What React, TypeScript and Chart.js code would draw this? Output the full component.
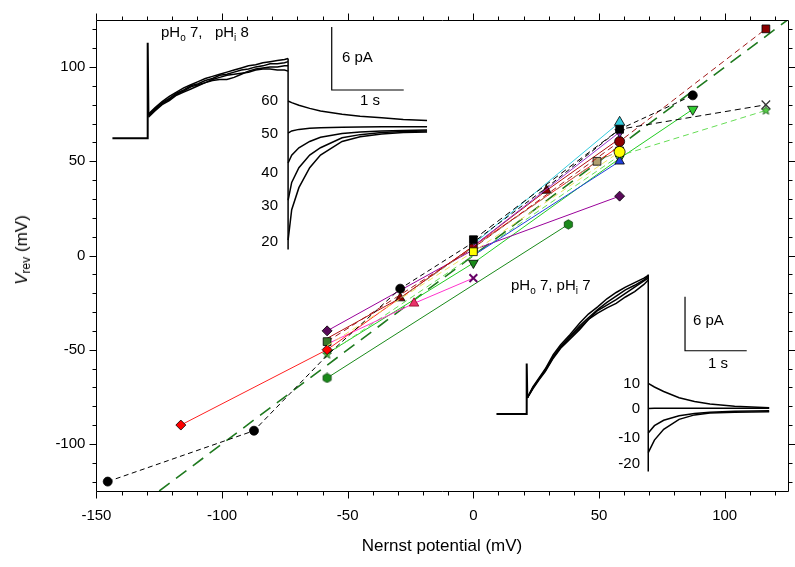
import React, { useEffect, useRef } from "react";
import { Chart, registerables } from "chart.js";
Chart.register(...registerables);

const FONT = "'Liberation Sans', Arial, sans-serif";

// ---------- main chart: tick labels ----------
const xTickLabels = [-150, -100, -50, 0, 50, 100];
const yTickLabels = [-100, -50, 0, 50, 100];
const xMin = -150, xMax = 125, yMin = -125, yMax = 125;

// ---------- main chart: series (Nernst potential, Vrev) in mV ----------
const nernstLineX = [-125, 125];
const nernstLineY = [-125, 125];

const blackCircX = [-145.5, -87.3, -58.2, -29.1, 0, 29.1, 58.2, 87.3];
const blackCircY = [-120, -93, -53, -17.6, 7, 36, 67, 85];

const blackSqX = [0, 58.2, 116.4];
const blackSqY = [8.4, 67, 80];

const darkRedSqX = [-58.2, 0, 58.2, 116.4];
const darkRedSqY = [-45.7, 4, 60.5, 120.3];

const redDiaX = [-116.4, -58.2, 0, 58.2];
const redDiaY = [-90, -50, 5, 58];

const greenHexX = [-58.2, 37.8];
const greenHexY = [-65, 16.5];

const purpleDiaX = [-58.2, 0, 58.2];
const purpleDiaY = [-40, 3, 31.5];

const magentaX = [-58.2, -23.6, 0];
const magentaY = [-47, -25.4, -12];

const lightGreenX = [-58.2, 0, 58.2, 116.4];
const lightGreenY = [-52.5, 0, 53, 77];

const greenTriX = [-58.2, 0, 58.2, 87.3];
const greenTriY = [-52, -4, 51.5, 77.6];

const cyanX = [0, 58.2];
const cyanY = [6, 70.7];

const violetX = [0, 58.2];
const violetY = [5, 65.5];

const yellowX = [-58.2, 0, 58.2];
const yellowY = [-48, 2, 55];

const blueX = [0, 58.2];
const blueY = [0, 50];

const tanX = [-29.1, 49.2, 58.2];
const tanY = [-22.6, 50, 55.5];

const darkRedTriX = [-58.2, -29.1, 0, 29.1, 58.2];
const darkRedTriY = [-44, -22.6, 5, 34.5, 62];

// ---------- inset 1 (pHo 7, pHi 8): time (s), current (pA) ----------
const in1PulseT = [-0.49, 0, 0, 0.01];
const in1PulseI = [0, 0, 9.1, 2.2];
const in1RiseT = [0.01, 0.1, 0.2, 0.3, 0.4, 0.5, 0.6, 0.7, 0.8, 0.9, 1.0, 1.1, 1.2, 1.3, 1.4, 1.5, 1.6, 1.7, 1.8, 1.9, 1.95];
const in1RiseA = [2.2, 2.8, 3.4, 3.8, 4.3, 4.6, 5.0, 5.2, 5.5, 5.7, 6.0, 6.1, 6.3, 6.5, 6.6, 6.8, 6.9, 7.1, 7.1, 7.2, 7.3];
const in1RiseB = [2.0, 2.6, 3.2, 3.6, 4.1, 4.4, 4.7, 5.0, 5.3, 5.5, 5.6, 5.6, 5.8, 6.1, 6.4, 6.6, 6.7, 6.8, 6.8, 6.9, 6.9];
const in1RiseC = [2.3, 2.9, 3.5, 4.0, 4.4, 4.8, 5.1, 5.4, 5.7, 5.9, 6.1, 6.3, 6.5, 6.7, 6.9, 7.0, 7.2, 7.3, 7.4, 7.5, 7.6];
const in1RiseD = [2.1, 2.7, 3.3, 3.7, 4.2, 4.5, 4.9, 5.1, 5.3, 5.6, 5.8, 6.0, 6.1, 6.2, 6.3, 6.5, 6.6, 6.6, 6.5, 6.5, 6.4];
const in1StepT = [1.95, 1.95];
const in1StepI = [7.6, -10.6];
const in1TailT = [1.95, 2.0, 2.1, 2.25, 2.4, 2.7, 2.95, 3.25, 3.55, 3.88];
const in1Tail60 = [3.55, 3.4, 3.15, 2.85, 2.6, 2.3, 2.1, 1.95, 1.8, 1.7];
const in1Tail50 = [0.5, 0.7, 0.85, 0.95, 1.0, 1.05, 1.08, 1.1, 1.1, 1.1];
const in1Tail40 = [-2.35, -1.6, -0.9, -0.3, 0.1, 0.45, 0.6, 0.7, 0.75, 0.8];
const in1Tail30 = [-5.9, -4.2, -2.8, -1.6, -0.9, 0.05, 0.35, 0.55, 0.65, 0.7];
const in1Tail20 = [-9.7, -6.8, -4.7, -2.8, -1.6, -0.3, 0.15, 0.4, 0.55, 0.6];
const in1BarT = [2.556, 2.556, 3.556];
const in1BarI = [10.6, 4.6, 4.6];
const in1Labels = ["60", "50", "40", "30", "20"];

// ---------- inset 2 (pHo 7, pHi 7) ----------
const in2PulseT = [-0.49, 0, 0, 0.01];
const in2PulseI = [0, 0, 5.6, 1.8];
const in2RiseT = [0.01, 0.1, 0.2, 0.3, 0.43, 0.55, 0.7, 0.86, 1.0, 1.15, 1.3, 1.45, 1.6, 1.75, 1.9, 1.97];
const in2RiseA = [1.8, 2.9, 3.9, 4.9, 6.4, 7.5, 8.6, 9.8, 10.7, 11.6, 12.4, 13.1, 13.8, 14.3, 14.9, 15.3];
const in2RiseB = [1.8, 2.8, 3.8, 4.7, 6.2, 7.3, 8.3, 9.4, 10.5, 11.5, 12.1, 12.7, 13.4, 14.1, 14.8, 15.1];
const in2RiseC = [1.8, 3.0, 4.0, 5.0, 6.6, 7.7, 8.8, 10.1, 11.1, 11.9, 12.8, 13.5, 14.1, 14.6, 15.1, 15.4];
const in2RiseD = [1.8, 2.9, 3.9, 4.8, 6.3, 7.4, 8.5, 9.6, 10.5, 11.2, 11.8, 12.3, 13.0, 13.6, 14.4, 14.9];
const in2StepT = [1.97, 1.97];
const in2StepI = [15.5, -6.4];
const in2TailT = [1.97, 2.07, 2.22, 2.47, 2.72, 2.97, 3.37, 3.93];
const in2Tail10 = [3.4, 3.0, 2.5, 1.8, 1.4, 1.1, 0.85, 0.7];
const in2Tail0 = [0.6, 0.65, 0.65, 0.65, 0.65, 0.65, 0.65, 0.65];
const in2TailM10 = [-2.1, -1.3, -0.7, -0.2, 0.05, 0.2, 0.3, 0.35];
const in2TailM20 = [-4.3, -2.9, -1.7, -0.6, -0.1, 0.1, 0.2, 0.25];
const in2BarT = [2.566, 2.566, 3.566];
const in2BarI = [13.03, 7.03, 7.03];
const in2Labels = ["10", "0", "-10", "-20"];

// ---------- helpers ----------
const pts = (xs: number[], ys: number[]) => xs.map((x, i) => ({ x, y: ys[i] }));

function makeMarker(shape: "hex" | "star", fill: string, stroke: string, size: number) {
  const c = document.createElement("canvas");
  c.width = size;
  c.height = size;
  const g = c.getContext("2d")!;
  const cx = size / 2, cy = size / 2, r = size / 2 - 0.8;
  g.beginPath();
  if (shape === "hex") {
    for (let k = 0; k < 6; k++) {
      const a = Math.PI / 6 + (k * Math.PI) / 3;
      const px = cx + r * Math.cos(a), py = cy + r * Math.sin(a);
      k === 0 ? g.moveTo(px, py) : g.lineTo(px, py);
    }
  } else {
    for (let k = 0; k < 10; k++) {
      const rr = k % 2 ? r * 0.45 : r;
      const a = -Math.PI / 2 + (k * Math.PI) / 5;
      const px = cx + rr * Math.cos(a), py = cy + rr * Math.sin(a);
      k === 0 ? g.moveTo(px, py) : g.lineTo(px, py);
    }
  }
  g.closePath();
  g.fillStyle = fill;
  g.fill();
  g.strokeStyle = stroke;
  g.lineWidth = 0.8;
  g.stroke();
  return c;
}

const framePlugin = {
  id: "frameTicks",
  afterDatasetsDraw(chart: any) {
    const { ctx, chartArea: a } = chart;
    const xs = chart.scales.x, ys = chart.scales.y;
    const L = Math.round(a.left) + 0.5, R = Math.round(a.right) + 0.5;
    const T = Math.round(a.top) + 0.5, B = Math.round(a.bottom) + 0.5;
    ctx.save();
    ctx.strokeStyle = "#000";
    ctx.lineWidth = 1;
    ctx.beginPath();
    ctx.rect(L, T, R - L, B - T);
    for (let v = Math.ceil(xs.min / 10) * 10; v <= xs.max + 1e-6; v += 10) {
      const p = Math.round(xs.getPixelForValue(v)) + 0.5;
      const len = v % 50 === 0 ? 7 : 4;
      ctx.moveTo(p, B); ctx.lineTo(p, B + len);
      ctx.moveTo(p, T); ctx.lineTo(p, T - len);
    }
    for (let v = Math.ceil(ys.min / 10) * 10; v <= ys.max + 1e-6; v += 10) {
      const p = Math.round(ys.getPixelForValue(v)) + 0.5;
      const len = v % 50 === 0 ? 7 : 4;
      ctx.moveTo(L, p); ctx.lineTo(L - len, p);
      ctx.moveTo(R, p); ctx.lineTo(R + len, p);
    }
    ctx.stroke();
    ctx.restore();
  },
};

function mainConfig(): any {
  const hex = makeMarker("hex", "#1a8a1a", "#0a400a", 11);
  const star = makeMarker("star", "#55CC44", "#1a5a1a", 11);
  const line = (label: string, xs: number[], ys: number[], o: any) => ({
    label,
    data: pts(xs, ys),
    showLine: true,
    tension: 0,
    borderWidth: 1,
    pointBorderWidth: 0.8,
    pointBorderColor: "#000",
    ...o,
  });
  const datasets = [
    line("black circles", blackCircX, blackCircY, {
      borderColor: "#000", borderDash: [5, 3.5], pointStyle: "circle",
      pointRadius: [4.5, 4.5, 0, 4.5, 0, 0, 0, 4.5], pointBackgroundColor: "#000",
    }),
    line("black squares", blackSqX, blackSqY, {
      borderColor: "#000", borderDash: [6, 4], pointStyle: ["rect", "rect", "crossRot"],
      pointRadius: [5.5, 5.5, 6], pointBackgroundColor: "#000",
      pointBorderColor: ["#000", "#000", "#333"], pointBorderWidth: [0.8, 0.8, 1.2],
    }),
    line("cyan", cyanX, cyanY, {
      borderColor: "#33CCDD", pointStyle: "triangle", pointRadius: [0, 6], pointBackgroundColor: "#33CCDD",
    }),
    line("violet", violetX, violetY, {
      borderColor: "#9933CC", pointStyle: "triangle", pointRotation: 180, pointRadius: [0, 5.5], pointBackgroundColor: "#9933CC",
    }),
    line("yellow", yellowX, yellowY, {
      borderColor: "#EEE060", borderDash: [6, 4], pointStyle: ["circle", "rect", "circle"],
      pointRadius: [0, 5.5, 5.5], pointBackgroundColor: "#FFFF00",
    }),
    line("blue", blueX, blueY, {
      borderColor: "#2040DD", pointStyle: "triangle", pointRadius: [0, 5.5], pointBackgroundColor: "#2040DD",
    }),
    line("dark red squares", darkRedSqX, darkRedSqY, {
      borderColor: "#A01818", borderDash: [6, 4], pointStyle: ["rect", "rect", "circle", "rect"],
      pointRadius: [5.5, 5.5, 5, 5.5], pointBackgroundColor: ["#3a7a2a", "#8B0000", "#8B0000", "#8B0000"],
    }),
    line("tan", tanX, tanY, {
      borderColor: "#9a9070", borderDash: [6, 4], pointStyle: "rect",
      pointRadius: [0, 5.5, 5.5], pointBackgroundColor: "#B0A070",
    }),
    line("dark red triangles", darkRedTriX, darkRedTriY, {
      borderColor: "#B01010", pointStyle: "triangle", pointRadius: [0, 5.5, 0, 5.5, 0], pointBackgroundColor: "#8B0000",
    }),
    line("red diamonds", redDiaX, redDiaY, {
      borderColor: "#FF2020", pointStyle: "rectRot", pointRadius: [5, 5, 0, 0], pointBackgroundColor: "#FF0000",
    }),
    line("purple diamonds", purpleDiaX, purpleDiaY, {
      borderColor: "#990099", pointStyle: "rectRot", pointRadius: [5, 0, 5], pointBackgroundColor: "#5a0a5a",
    }),
    line("magenta", magentaX, magentaY, {
      borderColor: "#FF33CC", pointStyle: ["circle", "triangle", "crossRot"],
      pointRadius: [0, 5.5, 5.5], pointBackgroundColor: ["#000", "#E8336A", "#660066"],
      pointBorderColor: ["#000", "#8B0020", "#660066"], pointBorderWidth: [1, 0.8, 2],
    }),
    line("light green dashed", lightGreenX, lightGreenY, {
      borderColor: "#66DD55", borderDash: [6, 4], pointStyle: star, pointRadius: [5, 0, 0, 5],
    }),
    line("green triangles", greenTriX, greenTriY, {
      borderColor: "#22CC22", pointStyle: "triangle", pointRotation: 180,
      pointRadius: [0, 5.5, 5, 6], pointBackgroundColor: ["#33CC33", "#1a8a1a", "#33CC33", "#33CC33"],
    }),
    line("green hexagons", greenHexX, greenHexY, {
      borderColor: "#1a8a1a", pointStyle: hex, pointRadius: 5,
    }),
    line("Nernst", nernstLineX, nernstLineY, {
      borderColor: "#1f7a1f", borderWidth: 1.6, borderDash: [13, 8], pointRadius: 0,
    }),
  ];
  return {
    type: "scatter",
    data: { datasets },
    options: {
      animation: false,
      responsive: false,
      layout: { padding: { left: 0, top: 7.7, right: 7.5, bottom: 0 } },
      plugins: { legend: { display: false }, tooltip: { enabled: false } },
      scales: {
        x: {
          type: "linear", min: xMin, max: xMax,
          afterFit: (s: any) => { s.height = 76; },
          afterBuildTicks: (s: any) => { s.ticks = xTickLabels.map((v) => ({ value: v })); },
          grid: { display: false, drawTicks: false },
          border: { display: false },
          ticks: { color: "#000", font: { family: FONT, size: 15 }, padding: 16, maxRotation: 0 },
          title: {
            display: true, text: "Nernst potential (mV)", color: "#000",
            font: { family: FONT, size: 17 }, padding: { top: 0, bottom: 10.8 },
          },
        },
        y: {
          type: "linear", min: yMin, max: yMax,
          afterFit: (s: any) => { s.width = 96.4; },
          afterBuildTicks: (s: any) => { s.ticks = yTickLabels.map((v) => ({ value: v })); },
          grid: { display: false, drawTicks: false },
          border: { display: false },
          ticks: { color: "#000", font: { family: FONT, size: 15 }, padding: 11 },
        },
      },
    },
    plugins: [framePlugin],
  };
}

function insetConfig(datasets: any[], tMin: number, tMax: number, iMin: number, iMax: number): any {
  return {
    type: "scatter",
    data: { datasets },
    options: {
      animation: false,
      responsive: false,
      layout: { padding: 0 },
      plugins: { legend: { display: false }, tooltip: { enabled: false } },
      elements: { point: { radius: 0 }, line: { tension: 0 } },
      scales: {
        x: { type: "linear", display: false, min: tMin, max: tMax },
        y: { type: "linear", display: false, min: iMin, max: iMax },
      },
    },
  };
}

const trace = (xs: number[], ys: number[], w = 1.5) => ({
  data: pts(xs, ys), showLine: true, borderColor: "#000", borderWidth: w, pointRadius: 0, clip: false,
});

function inset1Config() {
  return insetConfig(
    [
      trace(in1PulseT, in1PulseI, 2),
      trace(in1RiseT, in1RiseA), trace(in1RiseT, in1RiseB), trace(in1RiseT, in1RiseC), trace(in1RiseT, in1RiseD),
      trace(in1StepT, in1StepI),
      trace(in1TailT, in1Tail60), trace(in1TailT, in1Tail50), trace(in1TailT, in1Tail40),
      trace(in1TailT, in1Tail30), trace(in1TailT, in1Tail20),
      trace(in1BarT, in1BarI, 1.2),
    ],
    -0.5236, 3.921, -11.59, 11.267
  );
}

function inset2Config() {
  return insetConfig(
    [
      trace(in2PulseT, in2PulseI, 2),
      trace(in2RiseT, in2RiseA), trace(in2RiseT, in2RiseB), trace(in2RiseT, in2RiseC), trace(in2RiseT, in2RiseD),
      trace(in2StepT, in2StepI),
      trace(in2TailT, in2Tail10), trace(in2TailT, in2Tail0), trace(in2TailT, in2TailM10), trace(in2TailT, in2TailM20),
      trace(in2BarT, in2BarI, 1.2),
    ],
    -0.5948, 4.1053, -7.333, 17.111
  );
}

const txt: React.CSSProperties = {
  position: "absolute", fontSize: 15, lineHeight: "18px", whiteSpace: "nowrap", color: "#000",
};
const subS: React.CSSProperties = { fontSize: 10, verticalAlign: "-4px", lineHeight: 0 };

const in1LabelY = [100, 133, 172, 205, 241];
const in2LabelY = [383, 408, 437, 463];

export default function App() {
  const mainRef = useRef<HTMLCanvasElement>(null);
  const in1Ref = useRef<HTMLCanvasElement>(null);
  const in2Ref = useRef<HTMLCanvasElement>(null);

  useEffect(() => {
    const charts = [
      new Chart(mainRef.current!, mainConfig()),
      new Chart(in1Ref.current!, inset1Config()),
      new Chart(in2Ref.current!, inset2Config()),
    ];
    return () => charts.forEach((c) => c.destroy());
  }, []);

  return (
    <div style={{ position: "fixed", left: 0, top: 0, width: 795, height: 567, background: "#fff", fontFamily: FONT, overflow: "hidden" }}>
      <canvas ref={mainRef} width={795} height={567} style={{ position: "absolute", left: 0, top: 0 }} />
      <canvas ref={in1Ref} width={320} height={240} style={{ position: "absolute", left: 110, top: 20 }} />
      <canvas ref={in2Ref} width={290} height={220} style={{ position: "absolute", left: 490, top: 260 }} />

      {/* y axis title */}
      <div style={{ ...txt, fontSize: 17, lineHeight: "20px", left: 22, top: 250, transform: "translate(-50%, -50%) rotate(-90deg)" }}>
        <i>V</i><sub style={{ fontSize: 12, verticalAlign: "-3px", lineHeight: 0 }}>rev</sub> (mV)
      </div>

      {/* inset 1 texts */}
      <div style={{ ...txt, left: 161, top: 23 }}>
        pH<sub style={subS}>o</sub> 7,&nbsp;&nbsp; pH<sub style={subS}>i</sub> 8
      </div>
      <div style={{ ...txt, left: 342, top: 48 }}>6 pA</div>
      <div style={{ ...txt, left: 340, width: 60, textAlign: "center", top: 91 }}>1 s</div>
      {in1Labels.map((l, i) => (
        <div key={l} style={{ ...txt, left: 218, width: 60, textAlign: "right", top: in1LabelY[i] - 9 }}>{l}</div>
      ))}

      {/* inset 2 texts */}
      <div style={{ ...txt, left: 511, top: 276 }}>
        pH<sub style={subS}>o</sub> 7, pH<sub style={subS}>i</sub> 7
      </div>
      <div style={{ ...txt, left: 693, top: 311 }}>6 pA</div>
      <div style={{ ...txt, left: 688, width: 60, textAlign: "center", top: 354 }}>1 s</div>
      {in2Labels.map((l, i) => (
        <div key={l} style={{ ...txt, left: 580, width: 60, textAlign: "right", top: in2LabelY[i] - 9 }}>{l}</div>
      ))}
    </div>
  );
}
